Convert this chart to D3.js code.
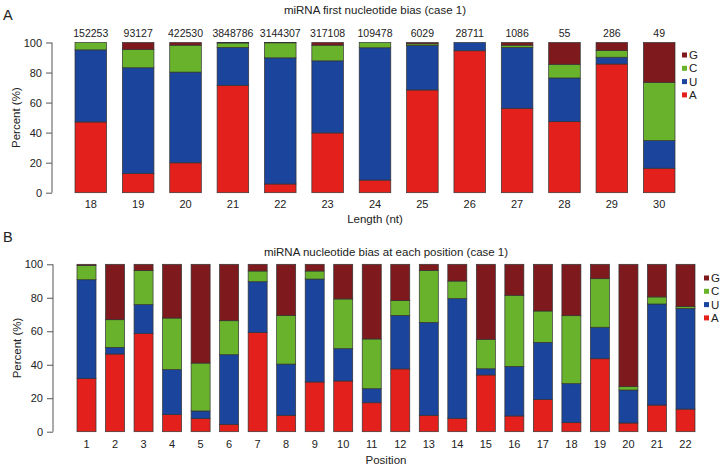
<!DOCTYPE html>
<html>
<head>
<meta charset="utf-8">
<script src="https://cdn.jsdelivr.net/npm/d3@7"></script>
<style>
  body { margin: 0; background: #fff; }
  svg text { font-family: "Liberation Sans", Arial, sans-serif; fill: #222; }
</style>
</head>
<body>
<svg id="svg" width="721" height="468"></svg>
<script>
// ---- data (percent) ----
var nucleotides = ['A', 'U', 'C', 'G'];
var colors = ['#e3201c', '#1b449c', '#69b32c', '#7e1a1e'];

// panel A: first nucleotide by read length
var lengths = ['18', '19', '20', '21', '22', '23', '24', '25', '26', '27', '28', '29', '30'];
var lengthCounts = ['152253', '93127', '422530', '3848786', '3144307', '317108', '109478', '6029', '28711', '1086', '55', '286', '49'];
var lenA = [47.1, 12.8, 19.9, 71.5, 5.8, 39.8, 8.4, 68.4, 94.5, 56.2, 47.3, 85.7, 16.3];
var lenU = [48.0, 70.4, 60.4, 25.2, 84.0, 48.0, 88.1, 29.6, 5.5, 40.5, 29.1, 4.5, 18.4];
var lenC = [4.9, 12.2, 17.9, 3.0, 10.0, 10.4, 3.5, 1.1, 0, 1.5, 9.1, 4.5, 38.8];
var lenG = [0, 4.6, 1.8, 0.3, 0.2, 1.8, 0, 0.9, 0, 1.8, 14.5, 5.3, 26.5];

// panel B: nucleotide by position
var positions = ['1', '2', '3', '4', '5', '6', '7', '8', '9', '10', '11', '12', '13', '14', '15', '16', '17', '18', '19', '20', '21', '22'];
var posA = [31.7, 46.4, 58.6, 10.2, 7.8, 4.4, 59.2, 9.8, 29.7, 30.3, 17.3, 37.5, 9.8, 8.0, 33.9, 9.4, 19.3, 5.4, 43.6, 5.2, 15.9, 13.5];
var posU = [59.1, 4.0, 17.3, 26.9, 4.6, 41.6, 30.4, 30.6, 61.5, 19.3, 8.4, 32.0, 55.5, 71.5, 3.7, 29.6, 34.1, 23.3, 18.8, 19.7, 60.4, 60.2];
var posC = [8.4, 16.5, 20.3, 30.8, 28.6, 20.3, 6.4, 29.1, 4.8, 29.7, 29.7, 8.8, 31.1, 10.5, 17.6, 42.5, 18.7, 40.6, 29.0, 2.0, 4.2, 1.0];
var posG = [0.8, 33.1, 3.8, 32.1, 59.0, 33.7, 4.0, 30.5, 4.0, 20.7, 44.6, 21.7, 3.6, 10.0, 44.8, 18.5, 27.9, 30.7, 8.6, 73.1, 19.5, 25.3];

var yTicks = [0, 20, 40, 60, 80, 100];

var svg = d3.select('#svg');
var color = d3.scaleOrdinal().domain(nucleotides).range(colors);

function rows(cats, a, u, c, g) {
  return cats.map(function(k, i) {
    return {cat: k, A: a[i], U: u[i], C: c[i], G: g[i]};
  });
}

// draw one stacked panel
function panel(opt) {
  var x = d3.scaleBand().domain(opt.cats).range(opt.xr).paddingInner(1 / 3).paddingOuter(0);
  var y = d3.scaleLinear().domain([0, 100]).range(opt.yr);
  var g = svg.append('g');

  var series = d3.stack().keys(nucleotides)(opt.data);
  g.selectAll('g.layer')
    .data(series).enter().append('g')
    .attr('fill', function(d) { return color(d.key); })
    .selectAll('rect')
    .data(function(d) { return d; }).enter().append('rect')
    .attr('x', function(d) { return x(d.data.cat); })
    .attr('y', function(d) { return y(d[1]); })
    .attr('width', x.bandwidth())
    .attr('height', function(d) { return y(d[0]) - y(d[1]); })
    .attr('stroke', '#333')
    .attr('stroke-width', 0.7);

  // y axis
  var ax = g.append('g')
    .attr('transform', 'translate(' + opt.axisX + ',0)')
    .call(d3.axisLeft(y).tickValues(yTicks).tickSize(6).tickPadding(4));
  ax.select('.domain').attr('stroke', '#555').attr('d', 'M0,' + y(0) + 'V' + y(100));
  ax.selectAll('.tick line').attr('stroke', '#555');
  ax.selectAll('text').attr('font-size', 11).attr('font-family', '"Liberation Sans", Arial, sans-serif').attr('fill', '#222');

  // x labels
  g.selectAll('text.xl')
    .data(opt.cats).enter().append('text')
    .attr('x', function(d) { return x(d) + x.bandwidth() / 2; })
    .attr('y', opt.xLabY)
    .attr('text-anchor', 'middle')
    .attr('font-size', 11)
    .text(function(d) { return d; });

  g.append('text')
    .attr('transform', 'translate(' + opt.yTitleX + ',' + (y(50)) + ') rotate(-90)')
    .attr('text-anchor', 'middle')
    .attr('font-size', 11.5)
    .text('Percent (%)');

  var mid = (opt.xr[0] + opt.xr[1]) / 2;
  g.append('text').attr('x', mid).attr('y', opt.titleY)
    .attr('text-anchor', 'middle').attr('font-size', 11.5).text(opt.title);
  g.append('text').attr('x', mid).attr('y', opt.xTitleY)
    .attr('text-anchor', 'middle').attr('font-size', 11.5).text(opt.xTitle);
  g.append('text').attr('x', 3).attr('y', opt.letterY)
    .attr('font-size', 14.5).text(opt.letter);

  if (opt.counts) {
    g.selectAll('text.cnt')
      .data(opt.cats).enter().append('text')
      .attr('x', function(d) { return x(d) + x.bandwidth() / 2; })
      .attr('y', opt.countY)
      .attr('text-anchor', 'middle')
      .attr('font-size', 10.5)
      .text(function(d, i) { return opt.counts[i]; });
  }

  // legend, G on top
  var leg = g.selectAll('g.leg')
    .data(nucleotides.slice().reverse()).enter().append('g')
    .attr('transform', function(d, i) { return 'translate(' + opt.legX + ',' + (opt.legY + i * 13.3) + ')'; });
  leg.append('rect').attr('x', 0).attr('y', -2.5).attr('width', 5).attr('height', 5)
    .attr('fill', function(d) { return color(d); });
  leg.append('text').attr('x', 7).attr('y', 4).attr('font-size', 11.5).text(function(d) { return d; });
}

panel({
  cats: lengths, data: rows(lengths, lenA, lenU, lenC, lenG), counts: lengthCounts,
  xr: [75, 675], yr: [192.7, 42.5], axisX: 52, yTitleX: 20,
  xLabY: 208, xTitleY: 223, titleY: 14, countY: 37, letter: 'A', letterY: 20,
  title: 'miRNA first nucleotide bias (case 1)', xTitle: 'Length (nt)',
  legX: 682, legY: 55
});

panel({
  cats: positions, data: rows(positions, posA, posU, posC, posG),
  xr: [77, 695], yr: [431.7, 264.3], axisX: 53, yTitleX: 21,
  xLabY: 448, xTitleY: 464, titleY: 256, letter: 'B', letterY: 242,
  title: 'miRNA nucleotide bias at each position (case 1)', xTitle: 'Position',
  legX: 704, legY: 278
});
</script>
</body>
</html>
